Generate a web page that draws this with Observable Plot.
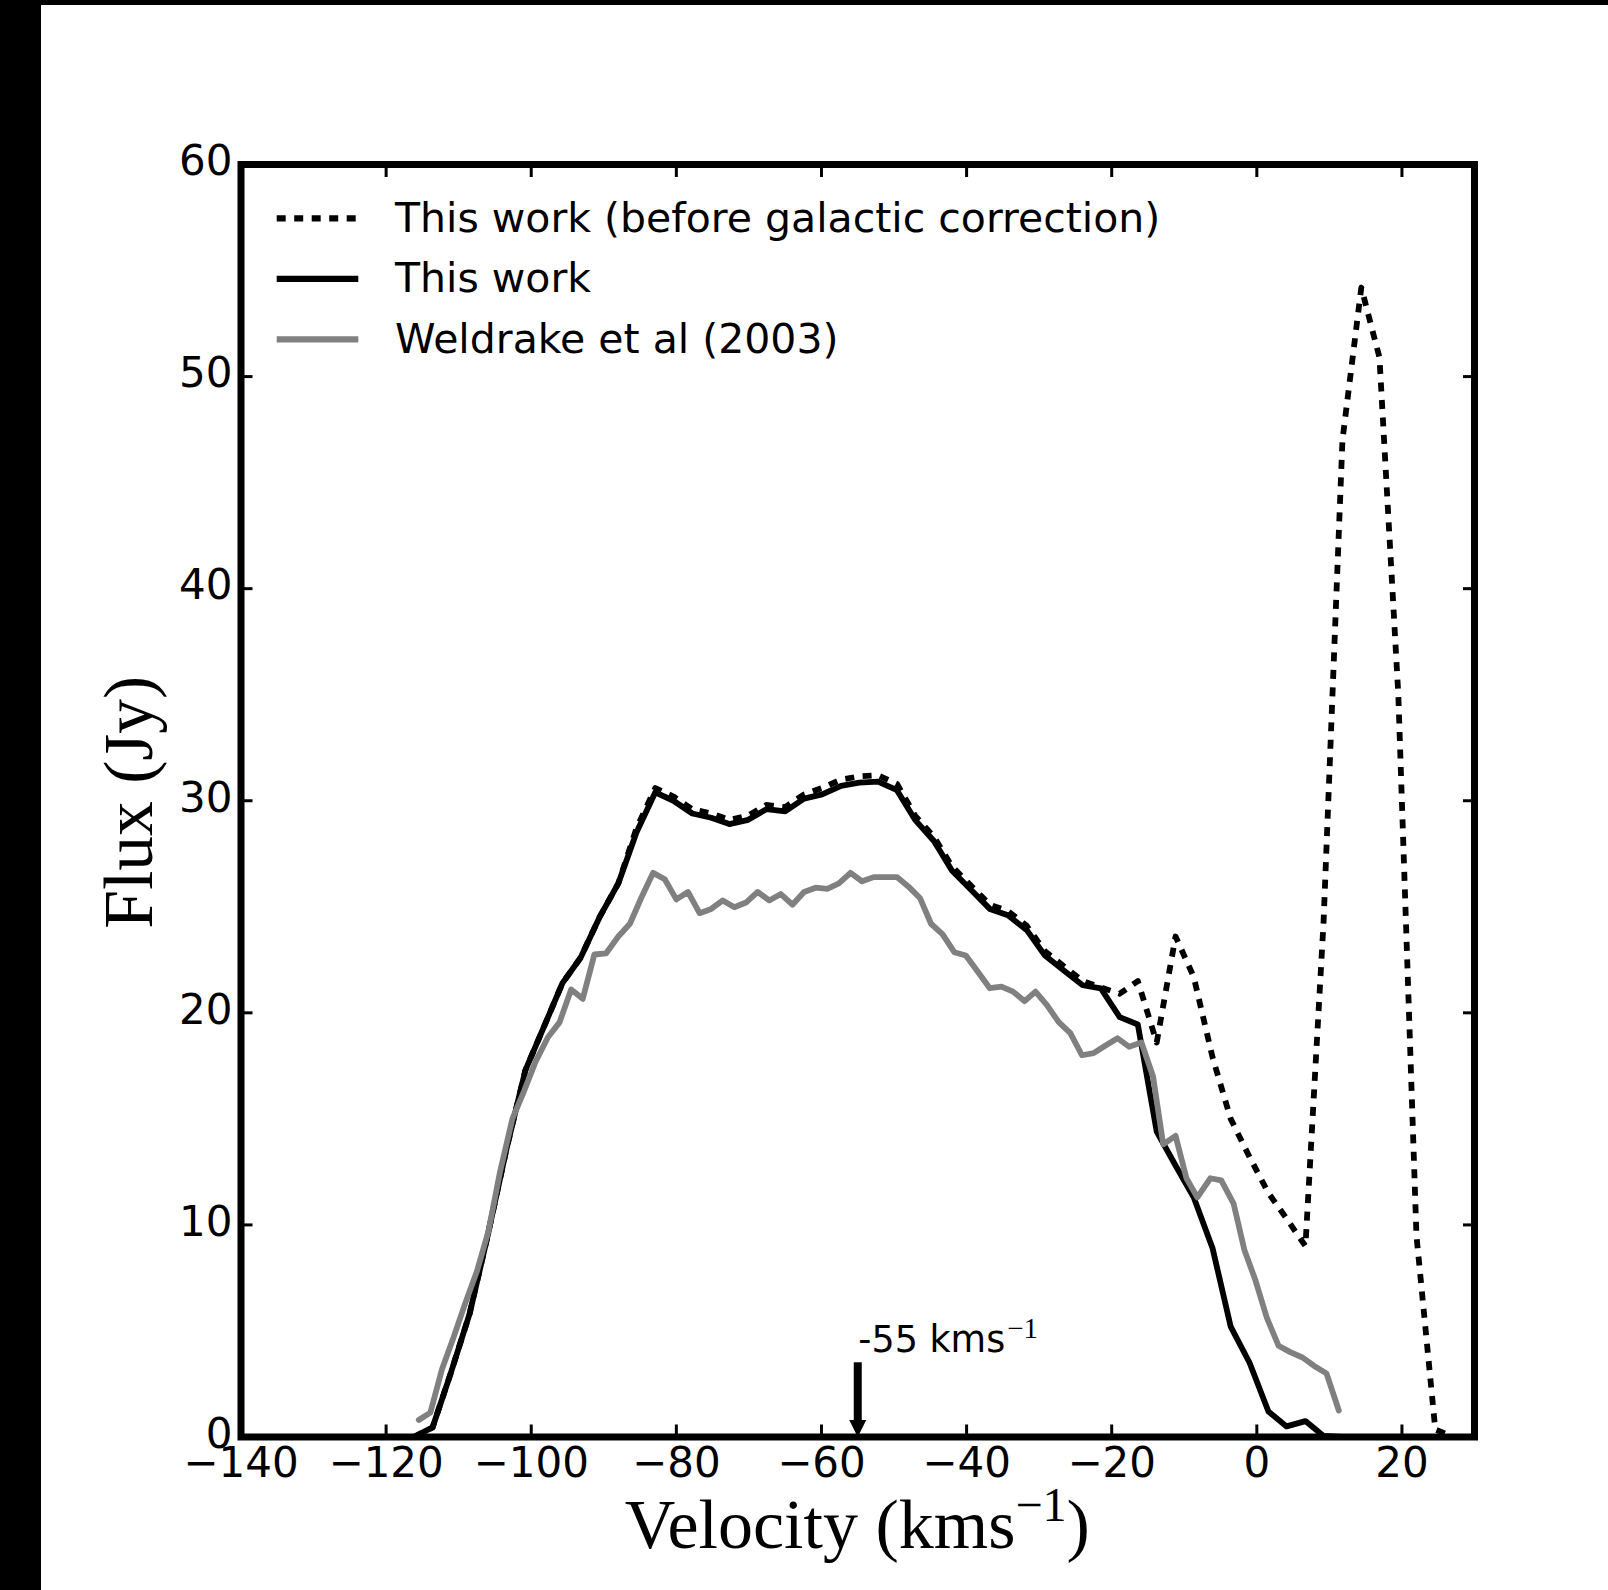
<!DOCTYPE html>
<html>
<head>
<meta charset="utf-8">
<script src="https://cdn.jsdelivr.net/npm/d3@7"></script>
<script src="https://cdn.jsdelivr.net/npm/@observablehq/plot@0.6"></script>
<style>
  html, body { margin: 0; padding: 0; background: #000; }
  #page { position: absolute; left: 41px; top: 5px; width: 1567px; height: 1585px; background: #fff; }
</style>
</head>
<body>
<div id="page"></div>
<script>
// Channel velocities of this work (km/s)
const velocityThisWork = [
  -116.2, -113.6, -111.1, -108.5, -106.0, -103.4, -100.8, -98.3, -95.7, -93.2,
  -90.6, -88.0, -85.5, -82.9, -80.4, -77.8, -75.2, -72.7, -70.1, -67.6,
  -65.0, -62.4, -59.9, -57.3, -54.8, -52.2, -49.6, -47.1, -44.5, -42.0,
  -39.4, -36.8, -34.3, -31.7, -29.2, -26.6, -24.0, -21.5, -18.9, -16.4,
  -13.8, -11.2, -8.7, -6.1, -3.6, -1.0, 1.6, 4.1, 6.7, 9.2,
  11.8, 14.4, 16.9, 19.5, 22.0, 24.6, 27.2
];
// Flux before the galactic correction (Jy)
const fluxBeforeCorrection = [
  0.0, 0.45, 3.0, 5.8, 9.5, 13.6, 17.3, 19.3, 21.4, 22.6,
  24.5, 26.1, 28.7, 30.6, 30.2, 29.6, 29.4, 29.1, 29.3, 29.8,
  29.7, 30.3, 30.6, 31.0, 31.15, 31.2, 30.8, 29.3, 28.3, 26.9,
  26.0, 25.1, 24.8, 24.1, 22.9, 22.2, 21.5, 21.2, 20.9, 21.5,
  18.6, 23.6, 21.7, 17.9, 15.0, 13.2, 11.5, 10.3, 9.0, 24.3,
  47.0, 54.2, 50.9, 35.0, 9.5, 0.35, 0.0
];
// Flux of this work (Jy)
const fluxThisWork = [
  0.0, 0.45, 3.0, 5.8, 9.5, 13.6, 17.3, 19.3, 21.4, 22.6,
  24.5, 26.1, 28.5, 30.4, 30.0, 29.4, 29.2, 28.9, 29.1, 29.6,
  29.5, 30.1, 30.3, 30.7, 30.85, 30.9, 30.5, 29.1, 28.1, 26.7,
  25.8, 24.9, 24.6, 23.9, 22.7, 22.0, 21.3, 21.15, 19.8, 19.45,
  14.4, 12.8, 11.3, 8.9, 5.2, 3.5, 1.2, 0.5, 0.75, 0.05,
  0.0, 0.0, 0.0, 0.0, 0.0, 0.0
];
// Weldrake et al (2003) profile
const velocityWeldrake = [
  -115.5, -113.9, -112.3, -110.7, -109.1, -107.5, -105.9, -104.3, -102.6, -101.0,
  -99.4, -97.7, -96.1, -94.5, -92.9, -91.3, -89.7, -88.0, -86.4, -84.8,
  -83.2, -81.6, -80.0, -78.4, -76.8, -75.2, -73.6, -72.0, -70.4, -68.8,
  -67.2, -65.6, -64.0, -62.4, -60.8, -59.2, -57.6, -56.0, -54.4, -52.8,
  -51.2, -49.6, -48.0, -46.4, -44.9, -43.3, -41.7, -40.1, -38.5, -36.8,
  -35.2, -33.6, -32.0, -30.5, -28.9, -27.3, -25.7, -24.1, -22.5, -20.9,
  -19.2, -17.6, -15.9, -14.3, -12.9, -11.2, -9.7, -8.2, -6.4, -4.9,
  -3.2, -1.7, -0.2, 1.4, 3.0, 4.6, 6.3, 7.9, 9.6, 11.3
];
const fluxWeldrake = [
  0.8, 1.15, 3.2, 4.7, 6.3, 7.8, 9.7, 12.5, 15.0, 16.3,
  17.7, 18.85, 19.55, 21.1, 20.66, 22.75, 22.8, 23.6, 24.2, 25.45,
  26.6, 26.3, 25.35, 25.7, 24.7, 24.9, 25.3, 24.98, 25.2, 25.7,
  25.3, 25.6, 25.1, 25.7, 25.9, 25.85, 26.1, 26.6, 26.2, 26.4,
  26.4, 26.4, 25.95, 25.4, 24.2, 23.7, 22.86, 22.7, 21.96, 21.16,
  21.24, 21.0, 20.55, 21.0, 20.35, 19.56, 19.04, 18.0, 18.1, 18.45,
  18.8, 18.4, 18.6, 17.0, 13.8, 14.2, 12.2, 11.3, 12.2, 12.1,
  11.0, 8.8, 7.4, 5.6, 4.3, 4.0, 3.75, 3.35, 3.0, 1.25
];

const xTicks = [-140, -120, -100, -80, -60, -40, -20, 0, 20];
const yTicks = [0, 10, 20, 30, 40, 50, 60];
const legendLabels = ["This work (before galactic correction)", "This work", "Weldrake et al (2003)"];
const markerVelocity = -55;
const markerTop = 3.5;
const markerText = "-55 kms";

const beforeRows = velocityThisWork.map((v, i) => ({v, f: fluxBeforeCorrection[i]}));
const correctedRows = fluxThisWork.map((f, i) => ({v: velocityThisWork[i], f}));
const weldrakeRows = velocityWeldrake.map((v, i) => ({v, f: fluxWeldrake[i]}));

const W = 1567, H = 1585;
const LW = 5.8;
const DOTS = "9 8.5";
const GRAY = "#808080";
const TICK_FONT = 42;

// filled arrow head with its tip at the origin, pointing down
const arrowHead = {
  draw(ctx) {
    ctx.moveTo(0, 0);
    ctx.lineTo(-8.5, -17);
    ctx.lineTo(8.5, -17);
    ctx.closePath();
  }
};

const blank = () => "";

const chart = Plot.plot({
  width: W,
  height: H,
  marginLeft: 199.5,
  marginRight: 134,
  marginTop: 159,
  marginBottom: 153.5,
  style: {fontFamily: "'DejaVu Sans', sans-serif", background: "#fff", color: "#000", overflow: "visible"},
  x: {domain: [-140, 30]},
  y: {domain: [0, 60]},
  marks: [
    Plot.line(beforeRows, {x: "v", y: "f", stroke: "#000", strokeWidth: LW, strokeDasharray: DOTS, strokeLinecap: "butt", strokeLinejoin: "round"}),
    Plot.line(correctedRows, {x: "v", y: "f", stroke: "#000", strokeWidth: LW, strokeLinejoin: "round"}),
    Plot.line(weldrakeRows, {x: "v", y: "f", stroke: GRAY, strokeWidth: LW, strokeLinejoin: "round"}),
    // ticks pointing inwards on all four sides
    Plot.axisX({anchor: "bottom", ticks: xTicks, tickSize: -12, strokeWidth: 3, tickFormat: blank, label: null}),
    Plot.axisX({anchor: "top", ticks: xTicks, tickSize: -12, strokeWidth: 3, tickFormat: blank, label: null}),
    Plot.axisY({anchor: "left", ticks: yTicks, tickSize: -12, strokeWidth: 3, tickFormat: blank, label: null}),
    Plot.axisY({anchor: "right", ticks: yTicks, tickSize: -12, strokeWidth: 3, tickFormat: blank, label: null}),
    // tick labels
    Plot.axisX({anchor: "bottom", ticks: xTicks, tickSize: 0, tickPadding: 10.6, fontSize: TICK_FONT, tickFormat: d3.format("d"), label: null}),
    Plot.axisY({anchor: "left", ticks: yTicks, tickSize: 0, tickPadding: 8.6, dy: -2.7, fontSize: TICK_FONT, tickFormat: d3.format("d"), label: null}),
    Plot.frame({stroke: "#000", strokeWidth: 7}),
    // marker arrow at the systemic velocity
    Plot.ruleX([markerVelocity], {x: d => d, y1: markerTop, y2: 0, stroke: "#000", strokeWidth: 8, insetBottom: 15}),
    Plot.dot([markerVelocity], {x: d => d, y: 0, symbol: arrowHead, fill: "#000", stroke: "none", r: 8})
  ]
});

document.getElementById("page").appendChild(chart);

const svg = d3.select(chart);
const xs = chart.scale("x"), ys = chart.scale("y");
const [frameLeft, frameRight] = xs.range;
const [frameBottom, frameTop] = ys.range;

// legend
const legendItems = [
  {label: legendLabels[0], stroke: "#000", dash: DOTS},
  {label: legendLabels[1], stroke: "#000", dash: null},
  {label: legendLabels[2], stroke: GRAY, dash: null}
];
const lg = svg.append("g").attr("transform", `translate(${frameLeft},${frameTop})`);
legendItems.forEach((item, i) => {
  const yRow = 54.3 + i * 60.5;
  lg.append("line")
    .attr("x1", 36.2).attr("x2", 117.8)
    .attr("y1", yRow).attr("y2", yRow)
    .attr("stroke", item.stroke)
    .attr("stroke-width", 6.2)
    .attr("stroke-dasharray", item.dash)
    .attr("stroke-linecap", "butt");
  lg.append("text")
    .attr("x", 154.5).attr("y", yRow + 13.4)
    .attr("text-anchor", "start")
    .attr("font-size", 41)
    .attr("fill", "#000")
    .text(item.label);
});

// marker label
const ann = svg.append("text")
  .attr("x", xs.apply(markerVelocity) + 1)
  .attr("y", ys.apply(markerTop) - 10.6)
  .attr("text-anchor", "start")
  .attr("font-size", 36.5)
  .attr("fill", "#000")
  .text(markerText);
ann.append("tspan")
  .attr("font-family", "'Liberation Serif', serif")
  .attr("font-size", 29)
  .attr("dx", 2)
  .attr("dy", -13.4)
  .text("\u22121");

// axis titles
const serif = "'Liberation Serif', 'Times New Roman', serif";
const xt = svg.append("text")
  .attr("x", (frameLeft + frameRight) / 2)
  .attr("y", 1543)
  .attr("text-anchor", "middle")
  .attr("font-family", serif)
  .attr("font-size", 70)
  .attr("fill", "#000")
  .text("Velocity (kms");
xt.append("tspan").attr("font-size", 48).attr("dy", -27).text("\u22121");
xt.append("tspan").attr("dy", 27).text(")");

svg.append("text")
  .attr("transform", `translate(111,${(frameTop + frameBottom) / 2 + 2}) rotate(-90)`)
  .attr("text-anchor", "middle")
  .attr("font-family", serif)
  .attr("font-size", 69.5)
  .attr("fill", "#000")
  .text("Flux (Jy)");
</script>
</body>
</html>
